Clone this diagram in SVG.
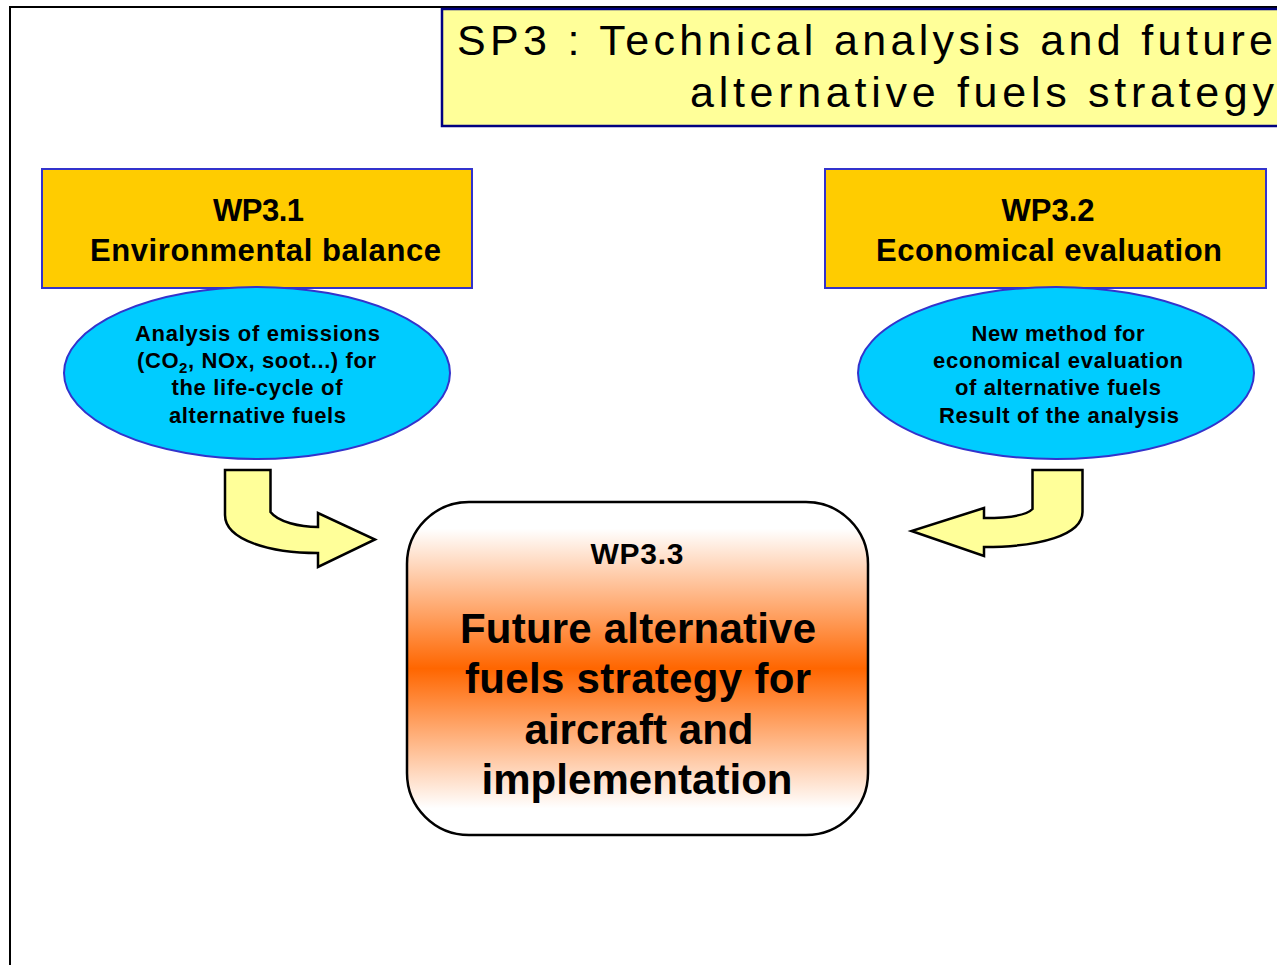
<svg xmlns="http://www.w3.org/2000/svg" width="1277" height="965" viewBox="0 0 1277 965">
<defs>
<linearGradient id="gOrange" x1="0" y1="0" x2="0" y2="1">
<stop offset="0" stop-color="#FFFFFF"/>
<stop offset="0.08" stop-color="#FFFFFF"/>
<stop offset="0.5" stop-color="#FF6600"/>
<stop offset="0.92" stop-color="#FFFFFF"/>
<stop offset="1" stop-color="#FFFFFF"/>
</linearGradient>
</defs>
<style>
.title{font-family:"Liberation Sans",Arial,sans-serif;font-size:43px;fill:#000}
.wp{fill:#FFCC00;stroke:#3333CC;stroke-width:2}
.wpt{font-family:"Liberation Sans",Arial,sans-serif;font-weight:bold;font-size:31px;fill:#000;text-anchor:middle}
.ell{fill:#00CCFF;stroke:#3333CC;stroke-width:2}
.et{font-family:"Liberation Sans",Arial,sans-serif;font-weight:bold;font-size:22px;fill:#000;text-anchor:middle}
.arrow{fill:#FFFF99;stroke:#000;stroke-width:2.5;stroke-linejoin:miter}
.ct{font-family:"Liberation Sans",Arial,sans-serif;font-weight:bold;fill:#000;text-anchor:middle}
</style>
<rect x="0" y="0" width="1277" height="965" fill="#FFFFFF"/>
<path d="M10,965 V7 H1280" fill="none" stroke="#000" stroke-width="2"/>
<g id="title">
<rect x="442" y="9" width="840" height="117" fill="#FFFF99" stroke="#000080" stroke-width="2.5"/>
<text class="title" x="457" y="55" textLength="816" lengthAdjust="spacing">SP3 : Technical analysis and future</text>
<text class="title" x="690" y="107" textLength="584" lengthAdjust="spacing">alternative fuels strategy</text>
</g>
<g id="wp31">
<rect class="wp" x="42" y="169" width="430" height="119"/>
<text class="wpt" x="258.5" y="221" textLength="91" lengthAdjust="spacing">WP3.1</text>
<text class="wpt" x="265.5" y="261" textLength="351" lengthAdjust="spacing">Environmental balance</text>
</g>
<g id="wp32">
<rect class="wp" x="825" y="169" width="441" height="119"/>
<text class="wpt" x="1048" y="221" textLength="93" lengthAdjust="spacing">WP3.2</text>
<text class="wpt" x="1049" y="261" textLength="346" lengthAdjust="spacing">Economical evaluation</text>
</g>
<g id="ell1">
<ellipse class="ell" cx="257" cy="373" rx="193" ry="86"/>
<text class="et" x="257.5" y="341" textLength="245" lengthAdjust="spacing">Analysis of emissions</text>
<text class="et" x="256.5" y="368" textLength="239" lengthAdjust="spacing">(CO<tspan font-size="15" dy="5">2</tspan><tspan dy="-5">, NOx, soot...) for</tspan></text>
<text class="et" x="257" y="395" textLength="171" lengthAdjust="spacing">the life-cycle of</text>
<text class="et" x="257.5" y="423" textLength="177" lengthAdjust="spacing">alternative fuels</text>
</g>
<g id="ell2">
<ellipse class="ell" cx="1056" cy="373" rx="198" ry="86"/>
<text class="et" x="1058" y="341" textLength="173" lengthAdjust="spacing">New method for</text>
<text class="et" x="1058" y="368" textLength="250" lengthAdjust="spacing">economical evaluation</text>
<text class="et" x="1058" y="395" textLength="206" lengthAdjust="spacing">of alternative fuels</text>
<text class="et" x="1059" y="423" textLength="240" lengthAdjust="spacing">Result of the analysis</text>
</g>
<g id="wp33">
<rect x="407" y="502" width="461" height="333" rx="62" ry="62" fill="url(#gOrange)" stroke="#000" stroke-width="2.5"/>
<text class="ct" x="637" y="564" font-size="30" textLength="93" lengthAdjust="spacing">WP3.3</text>
<text class="ct" x="638" y="643" font-size="42" textLength="356" lengthAdjust="spacing">Future alternative</text>
<text class="ct" x="638" y="693" font-size="42" textLength="346" lengthAdjust="spacing">fuels strategy for</text>
<text class="ct" x="639" y="744" font-size="42" textLength="229" lengthAdjust="spacing">aircraft and</text>
<text class="ct" x="637" y="794" font-size="42" textLength="311" lengthAdjust="spacing">implementation</text>
</g>
<g id="connectors">
<path class="arrow" d="M225,470 H270.5 V512 C278,522 300,527 318,527 V513 L375,539.5 L318,567 V553 C270,553 225,540 225,515 Z"/>
<path class="arrow" d="M1082.5,470 H1032.5 V509 C1026,516 1005,518 984,518 V508 L911.5,531 L984,556 V547 C1040,547 1082.5,535 1082.5,512 Z"/>
</g>
</svg>
